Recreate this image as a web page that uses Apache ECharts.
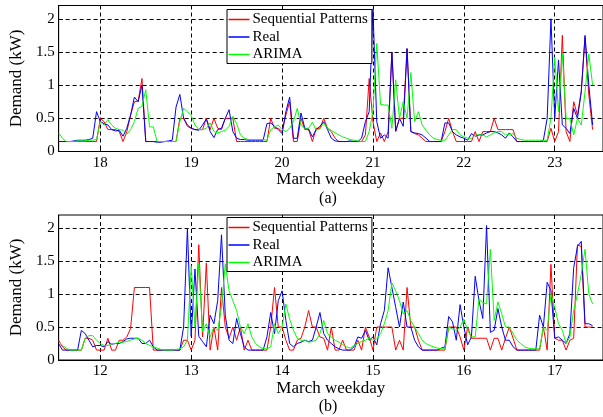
<!DOCTYPE html>
<html>
<head>
<meta charset="utf-8">
<script src="https://cdn.jsdelivr.net/npm/echarts@6/dist/echarts.min.js"></script>
<style>
  html, body { margin: 0; padding: 0; background: #fff; }
  #chart { width: 603px; height: 417px; }
</style>
</head>
<body>
<div id="chart"></div>
<script>
// Hourly household demand (kW). Each series starts at 13:00 of the first day.
const START_A = 17 + 13 / 24;
const START_B = 11 + 13 / 24;
const DAY_TICKS_A = [18, 19, 20, 21, 22, 23];
const DAY_TICKS_B = [12, 13, 14, 15, 16, 17];
const DEMAND_TICKS = [0, 0.5, 1, 1.5, 2];
const SERIES_NAMES = ['Sequential Patterns', 'Real', 'ARIMA'];

// ---- week (a): 17-23 March ----
const seqA = [
  0.15, 0.15, 0.15, 0.15, 0.15, 0.15, 0.15, 0.15, 0.15, 0.15, 0.15,
  0.5, 0.45, 0.33, 0.33, 0.33, 0.3, 0.15, 0.3, 0.55, 0.75, 0.76, 1.1, 0.15, 0.15, 0.15, 0.15, 0.15, 0.15, 0.15, 0.15, 0.15, 0.5, 0.5, 0.38,
  0.35, 0.33, 0.33, 0.33, 0.5, 0.33, 0.5, 0.35, 0.33, 0.5, 0.5, 0.5, 0.15, 0.15, 0.15, 0.15, 0.15, 0.15, 0.15, 0.15, 0.15, 0.5, 0.35, 0.35,
  0.3, 0.55, 0.75, 0.15, 0.15, 0.5, 0.33, 0.33, 0.15, 0.35, 0.35, 0.5, 0.35, 0.3, 0.2, 0.15, 0.15, 0.15, 0.15, 0.15, 0.15, 0.15, 0.25, 1.1,
  0.45, 0.15, 0.28, 0.15, 0.3, 1.5, 0.3, 0.5, 0.5, 1.55, 0.3, 0.27, 0.25, 0.2, 0.15, 0.15, 0.15, 0.15, 0.15, 0.3, 0.5, 0.3, 0.15, 0.15,
  0.15, 0.15, 0.15, 0.3, 0.15, 0.3, 0.3, 0.3, 0.5, 0.33, 0.33, 0.33, 0.33, 0.33, 0.15, 0.15, 0.15, 0.15, 0.15, 0.15, 0.15, 0.15, 0.15, 0.35,
  0.15, 0.3, 1.75, 0.3, 0.15, 0.75, 0.55, 0.9, 1.72, 0.85, 0.33
];
const realA = [
  0.15, 0.15, 0.15, 0.15, 0.16, 0.17, 0.17, 0.17, 0.18, 0.2, 0.6,
  0.45, 0.42, 0.4, 0.33, 0.31, 0.32, 0.23, 0.35, 0.55, 0.82, 0.75, 1.0, 0.15, 0.15, 0.15, 0.14, 0.14, 0.15, 0.16, 0.17, 0.67, 0.86, 0.5, 0.4,
  0.35, 0.33, 0.32, 0.4, 0.49, 0.3, 0.21, 0.33, 0.35, 0.5, 0.63, 0.3, 0.2, 0.18, 0.18, 0.17, 0.17, 0.17, 0.17, 0.17, 0.42, 0.43, 0.38, 0.33,
  0.27, 0.6, 0.82, 0.2, 0.2, 0.58, 0.35, 0.34, 0.22, 0.33, 0.38, 0.45, 0.33, 0.2, 0.16, 0.15, 0.15, 0.15, 0.16, 0.15, 0.15, 0.2, 0.45, 0.6,
  2.15, 0.45, 0.2, 0.25, 0.2, 1.5, 0.31, 0.5, 0.38, 1.55, 0.3, 0.28, 0.27, 0.25, 0.2, 0.15, 0.15, 0.15, 0.15, 0.43, 0.43, 0.3, 0.25, 0.22,
  0.2, 0.17, 0.27, 0.23, 0.25, 0.25, 0.28, 0.3, 0.3, 0.28, 0.25, 0.2, 0.28, 0.22, 0.15, 0.15, 0.15, 0.15, 0.15, 0.15, 0.15, 0.17, 0.5, 2.0,
  0.5, 1.38, 0.4, 0.35, 0.27, 0.65, 0.5, 0.9, 1.75, 1.0, 0.4
];
const arimaA = [
  0.28, 0.2, 0.15, 0.15, 0.15, 0.16, 0.16, 0.16, 0.17, 0.17, 0.18,
  0.45, 0.4, 0.48, 0.4, 0.35, 0.33, 0.32, 0.26, 0.33, 0.45, 0.65, 0.68, 0.93, 0.37, 0.37, 0.15, 0.15, 0.15, 0.15, 0.15, 0.15, 0.45, 0.65, 0.6,
  0.54, 0.4, 0.33, 0.33, 0.35, 0.43, 0.3, 0.28, 0.3, 0.32, 0.38, 0.53, 0.42, 0.25, 0.2, 0.18, 0.18, 0.18, 0.18, 0.18, 0.17, 0.33, 0.37, 0.4,
  0.33, 0.3, 0.35, 0.45, 0.65, 0.4, 0.35, 0.35, 0.44, 0.32, 0.34, 0.43, 0.35, 0.32, 0.28, 0.25, 0.22, 0.2, 0.18, 0.17, 0.16, 0.15, 0.15, 0.3,
  0.6, 1.63, 0.71, 0.7, 0.7, 0.35, 1.08, 0.5, 0.75, 0.5, 1.19, 0.45, 0.6, 0.4, 0.32, 0.25, 0.2, 0.18, 0.17, 0.17, 0.25, 0.33, 0.33, 0.25,
  0.22, 0.2, 0.2, 0.25, 0.25, 0.25, 0.22, 0.25, 0.28, 0.3, 0.3, 0.25, 0.25, 0.27, 0.2, 0.18, 0.17, 0.17, 0.17, 0.17, 0.17, 0.17, 0.17, 0.5,
  1.42, 0.6, 1.47, 0.5, 0.5, 0.25, 0.5, 0.4, 0.9, 1.47, 1.0
];

// ---- week (b): 11-17 March ----
const seqB = [
  0.3, 0.2, 0.15, 0.15, 0.15, 0.15, 0.15, 0.33, 0.33, 0.3, 0.15,
  0.15, 0.15, 0.33, 0.15, 0.15, 0.3, 0.3, 0.35, 0.48, 1.1, 1.1, 1.1, 1.1, 1.1, 0.15, 0.15, 0.15, 0.15, 0.15, 0.15, 0.15, 0.15, 0.3, 0.3,
  0.15, 0.3, 1.75, 0.35, 1.47, 0.15, 0.5, 0.15, 1.1, 0.5, 0.33, 0.5, 0.3, 0.5, 0.15, 0.3, 0.15, 0.15, 0.15, 0.15, 0.15, 0.5, 1.1, 0.5,
  0.5, 0.3, 0.15, 0.15, 0.3, 0.33, 0.5, 0.75, 0.5, 0.5, 0.35, 0.33, 0.15, 0.5, 0.15, 0.15, 0.3, 0.15, 0.15, 0.15, 0.3, 0.15, 0.5, 0.35,
  0.15, 0.5, 0.5, 0.5, 0.5, 0.5, 0.15, 0.3, 0.15, 1.1, 0.5, 0.5, 0.3, 0.15, 0.15, 0.15, 0.15, 0.15, 0.15, 0.15, 0.5, 0.5, 0.5, 0.35,
  0.15, 0.5, 0.33, 0.33, 0.33, 0.33, 0.33, 0.15, 0.33, 0.33, 0.15, 0.33, 0.5, 0.33, 0.15, 0.15, 0.15, 0.15, 0.15, 0.15, 0.15, 0.5, 0.15, 1.45,
  0.33, 0.3, 0.3, 0.15, 0.3, 0.33, 1.75, 1.72, 0.5, 0.5, 0.5
];
const realB = [
  0.25, 0.15, 0.15, 0.15, 0.15, 0.15, 0.45, 0.4, 0.3, 0.2, 0.22,
  0.22, 0.2, 0.28, 0.24, 0.25, 0.25, 0.28, 0.32, 0.33, 0.33, 0.33, 0.25, 0.25, 0.3, 0.2, 0.15, 0.15, 0.15, 0.15, 0.15, 0.15, 0.15, 0.5, 2.0,
  0.36, 1.38, 0.36, 0.28, 0.2, 0.68, 0.55, 0.9, 1.9, 0.68, 0.3, 0.25, 0.63, 0.4, 0.2, 0.15, 0.15, 0.15, 0.15, 0.15, 0.35, 0.72, 0.4, 0.9,
  1.05, 0.6, 0.25, 0.2, 0.25, 0.27, 0.3, 0.28, 0.3, 0.5, 0.72, 0.4, 0.3, 0.25, 0.2, 0.17, 0.15, 0.15, 0.15, 0.2, 0.35, 0.33, 0.45, 0.3,
  0.35, 0.23, 0.55, 0.75, 1.4, 1.1, 0.8, 0.5, 0.88, 0.5, 0.5, 0.3, 0.2, 0.15, 0.15, 0.15, 0.15, 0.15, 0.18, 0.2, 0.66, 0.58, 0.3, 0.84,
  0.5, 0.23, 0.35, 1.27, 0.9, 0.63, 2.04, 0.42, 0.45, 0.78, 0.5, 0.3, 0.3, 0.2, 0.15, 0.15, 0.15, 0.15, 0.15, 0.15, 0.68, 0.5, 1.18, 1.05,
  0.33, 0.35, 0.3, 0.25, 0.4, 1.4, 1.72, 1.8, 0.55, 0.55, 0.52
];
const arimaB = [
  0.28, 0.22, 0.18, 0.15, 0.15, 0.15, 0.15, 0.33, 0.37, 0.37, 0.3,
  0.25, 0.22, 0.22, 0.25, 0.25, 0.27, 0.27, 0.28, 0.3, 0.32, 0.33, 0.3, 0.25, 0.22, 0.2, 0.18, 0.16, 0.15, 0.15, 0.15, 0.16, 0.17, 0.2, 0.3,
  1.43, 0.5, 1.46, 0.43, 0.55, 0.35, 0.5, 0.45, 0.8, 1.46, 1.05, 0.9, 0.75, 0.5, 0.4, 0.55, 0.35, 0.25, 0.2, 0.17, 0.17, 0.2, 0.55, 0.4,
  0.5, 0.85, 0.62, 0.45, 0.33, 0.3, 0.3, 0.27, 0.28, 0.3, 0.4, 0.6, 0.4, 0.35, 0.3, 0.27, 0.23, 0.2, 0.18, 0.22, 0.25, 0.28, 0.3, 0.33,
  0.3, 0.32, 0.4, 0.55, 0.75, 1.17, 1.05, 0.9, 0.7, 0.75, 0.6, 0.5, 0.4, 0.3, 0.25, 0.22, 0.2, 0.18, 0.17, 0.17, 0.5, 0.47, 0.45, 0.5,
  0.62, 0.45, 0.35, 0.35, 0.93, 0.87, 0.85, 1.68, 0.6, 0.88, 0.7, 0.5, 0.5, 0.4, 0.3, 0.25, 0.2, 0.18, 0.17, 0.17, 0.17, 0.5, 0.45, 1.0,
  0.8, 0.55, 0.45, 0.25, 0.35, 0.75, 1.0, 1.3, 1.68, 1.0, 0.85
];

const SERIF = '"Liberation Serif", "Times New Roman", serif';
const COLORS = ['#ff0000', '#0000ff', '#00ff00'];
const PX_PER_DAY = 93.5;
const PLOT_W = 560;

function toPoints(start, values) {
  return values.map((v, i) => [start + i / 24, v]);
}

function xAxisFor(gridIndex, start, dayTicks) {
  return {
    type: 'value', gridIndex,
    min: start, max: start + PLOT_W / PX_PER_DAY,
    name: 'March weekday', nameLocation: 'middle', nameGap: 19,
    nameTextStyle: { fontFamily: SERIF, fontSize: 17, color: '#000' },
    axisLine: { lineStyle: { color: '#000', width: 1 } },
    axisTick: { inside: true, length: 4, customValues: dayTicks, lineStyle: { color: '#000' } },
    axisLabel: { customValues: dayTicks, fontFamily: SERIF, fontSize: 15, color: '#000', margin: 4 },
    splitLine: { show: true, lineStyle: { color: '#000', type: [4, 3], width: 1 } }
  };
}

function yAxisFor(gridIndex) {
  return {
    type: 'value', gridIndex, min: 0, max: 2.2,
    name: 'Demand (kW)', nameLocation: 'middle', nameGap: 31, nameRotate: 90,
    nameTextStyle: { fontFamily: SERIF, fontSize: 17, color: '#000' },
    axisLine: { show: true, lineStyle: { color: '#000', width: 1 } },
    axisTick: { show: true, inside: true, length: 4, customValues: DEMAND_TICKS, lineStyle: { color: '#000' } },
    axisLabel: { customValues: DEMAND_TICKS, fontFamily: SERIF, fontSize: 15, color: '#000', margin: 4 },
    splitLine: { show: true, lineStyle: { color: '#000', type: [4, 3], width: 1 } }
  };
}

function legendFor(top) {
  return {
    data: SERIES_NAMES, orient: 'vertical', left: 227, top: top,
    backgroundColor: '#fff', borderColor: '#000', borderWidth: 1,
    padding: [2.5, 4, 1.5, 1.5], itemGap: 2.5, itemWidth: 21, itemHeight: 1.5, icon: 'rect',
    textStyle: { fontFamily: SERIF, fontSize: 15, color: '#000', padding: [0, 0, 0, -2] }
  };
}

function seriesFor(idx, start, seq, real, arima) {
  return [seq, real, arima].map((vals, k) => ({
    name: SERIES_NAMES[k], type: 'line', xAxisIndex: idx, yAxisIndex: idx,
    data: toPoints(start, vals), symbol: 'none', showSymbol: false,
    lineStyle: { color: COLORS[k], width: 1 }, itemStyle: { color: COLORS[k] },
    clip: true
  }));
}

const chart = echarts.init(document.getElementById('chart'), null, { renderer: 'canvas' });
chart.setOption({
  animation: false,
  backgroundColor: '#fff',
  grid: [
    { left: 53, top: 5.5, width: PLOT_W, height: 146, show: true, borderColor: '#000', borderWidth: 1, backgroundColor: 'transparent' },
    { left: 53, top: 215, width: PLOT_W, height: 145, show: true, borderColor: '#000', borderWidth: 1, backgroundColor: 'transparent' }
  ],
  xAxis: [xAxisFor(0, START_A, DAY_TICKS_A), xAxisFor(1, START_B, DAY_TICKS_B)],
  yAxis: [yAxisFor(0), yAxisFor(1)],
  legend: [legendFor(9.5), legendFor(217.5)],
  graphic: [
    { type: 'text', x: 328, y: 199, style: { text: '(a)', align: 'center', verticalAlign: 'middle', fontFamily: SERIF, fontSize: 16, fill: '#000' } },
    { type: 'text', x: 328, y: 407, style: { text: '(b)', align: 'center', verticalAlign: 'middle', fontFamily: SERIF, fontSize: 16, fill: '#000' } }
  ],
  series: [
    ...seriesFor(0, START_A, seqA, realA, arimaA),
    ...seriesFor(1, START_B, seqB, realB, arimaB)
  ]
});
</script>
</body>
</html>
